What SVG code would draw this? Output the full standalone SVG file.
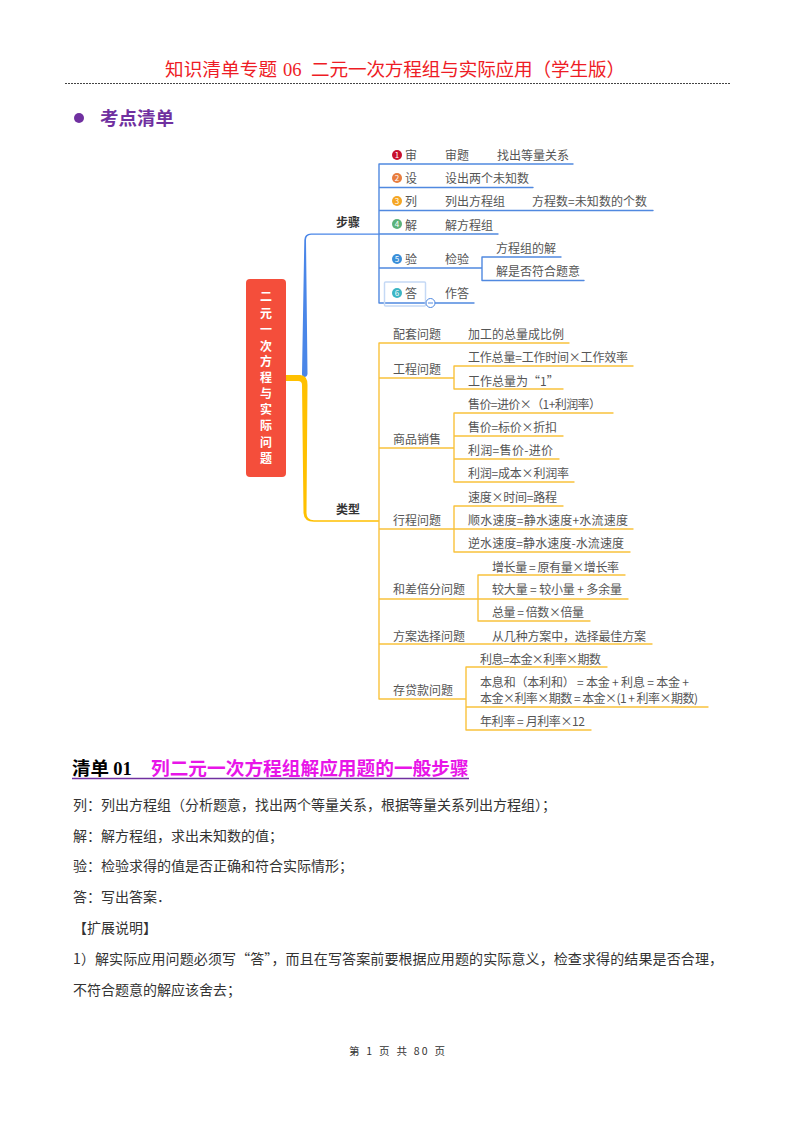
<svg xmlns="http://www.w3.org/2000/svg" width="793" height="1122" viewBox="0 0 793 1122">
<style>
text{font-family:"Noto Sans CJK SC","Liberation Sans",sans-serif}
.m{font-size:12px;fill:#555}
.b{font-size:12px;fill:#333;font-weight:700}
.n{font-size:8px;fill:#fff;text-anchor:middle}
.p{font-size:14px;fill:#333;font-family:"Noto Sans CJK SC","Liberation Serif",serif}
.h{font-size:18.6px;fill:#ee1c25;font-family:"Noto Sans CJK SC","Liberation Serif",serif}
.bl,.ye{fill:none;stroke-linecap:round;stroke-linejoin:round}
.bl{stroke:#5089e0;stroke-width:1.4}
.ye{stroke:#f9c23c;stroke-width:1.4}
</style>
<rect width="793" height="1122" fill="#fff"/>
<g id="header">
<text class="h" x="165" y="76" textLength="112">知识清单专题</text>
<text class="h" x="283" y="76" style="font-family:'Liberation Serif',serif">06</text>
<text class="h" x="311" y="76" textLength="314">二元一次方程组与实际应用（学生版）</text>
<line x1="65" y1="83.500" x2="730" y2="83.500" stroke="#444" stroke-width="1" stroke-dasharray="2 1"/>
<circle cx="79" cy="118" r="5" fill="#7030a0"/>
<text x="100" y="125" font-size="18.500" font-weight="700" fill="#7030a0">考点清单</text>
</g>
<g id="connectors">
<path d="M302 374L304.300 240Q304.500 233.500 311 233.500H379V234.700H311Q306 235 306 240L307.500 374Q307 377 304.500 377Q302 377 302 374Z" fill="#4a86e8"/>
<path d="M286 375H300Q307.500 375 307.500 385L306.500 513Q306.500 520.300 314 520.300H379V521.700H314Q304 521.700 303.500 513L302 385Q302 381 298 381H286Z" fill="#ffc000"/>
<path class="bl" d="M379 164V303M379 164H573M379 187.500H533M379 210.500H653M379 234H498M379 268H482M482 257V280.500M482 257H561M482 280.500H584M379 303H474"/>
<path class="ye" d="M379 343V699M379 343H569M379 378H454M454 366V389M454 366H633M454 389H563M379 448H454M454 413V482M454 413H613M454 436H563M454 459H559M454 482H574M379 529H454M454 506V552M454 506H563M454 529H633M454 552H630M379 599H478M478 575V621M478 575H625M478 599H628M478 621H590M379 644H652M379 699H466M466 667V730M466 667H607M466 707H708M466 730H591"/>
</g>
<g id="root"><rect x="246" y="279" width="40" height="198" rx="4" fill="#f44e3b"/>
<text x="266 266 266 266 266 266 266 266 266 266 266" y="301 317.500 333.500 350.500 366 382 398 414 430 447 463" font-size="12" font-weight="700" fill="#fff" text-anchor="middle">二元一次方程与实际问题</text></g>
<g id="n-steps"><text class="b" x="336" y="226.500">步骤</text></g>
<g id="n-types"><text class="b" x="336" y="513.500">类型</text></g>
<g id="s1"><circle cx="397" cy="155" r="5" fill="#c8102e"/><text class="n" x="397" y="158">1</text><text class="m" x="405" y="159.500">审</text><text class="m" x="445" y="159.500">审题</text><text class="m" x="497" y="159.500">找出等量关系</text></g>
<g id="s2"><circle cx="397" cy="178" r="5" fill="#e87d3e"/><text class="n" x="397" y="181">2</text><text class="m" x="405" y="182.500">设</text><text class="m" x="445" y="182.500">设出两个未知数</text></g>
<g id="s3"><circle cx="397" cy="201" r="5" fill="#f5a623"/><text class="n" x="397" y="204">3</text><text class="m" x="405" y="205.500">列</text><text class="m" x="445" y="205.500">列出方程组</text><text class="m" x="532" y="205.500" textLength="115">方程数=未知数的个数</text></g>
<g id="s4"><circle cx="397" cy="224" r="5" fill="#5cb27a"/><text class="n" x="397" y="227">4</text><text class="m" x="405" y="229.500">解</text><text class="m" x="445" y="229.500">解方程组</text></g>
<g id="s5"><circle cx="397" cy="259" r="5" fill="#3b8fd9"/><text class="n" x="397" y="262">5</text><text class="m" x="405" y="263.500">验</text><text class="m" x="445" y="263.500">检验</text><text class="m" x="496" y="252.500">方程组的解</text><text class="m" x="496" y="275.500">解是否符合题意</text></g>
<g id="s6"><rect x="384.500" y="282" width="41" height="24" rx="1" fill="none" stroke="#c5d9f5" stroke-width="1.500"/><circle cx="397" cy="293" r="5" fill="#3bb5c4"/><text class="n" x="397" y="296">6</text><text class="m" x="405" y="297.500">答</text><text class="m" x="445" y="297.500">作答</text><circle cx="430.500" cy="303" r="4.500" fill="#fff" stroke="#5089e0"/><line x1="428" y1="303" x2="433" y2="303" stroke="#5089e0"/></g>
<g id="t1"><text class="m" x="393" y="338.500">配套问题</text><text class="m" x="468" y="338.500">加工的总量成比例</text></g>
<g id="t2"><text class="m" x="393" y="373.500">工程问题</text><text class="m" x="468" y="361.500" textLength="160">工作总量=工作时间×工作效率</text><text class="m" x="468" y="385.500">工作总量为“1”</text></g>
<g id="t3"><text class="m" x="393" y="443.500">商品销售</text><text class="m" x="468" y="408.500" textLength="133">售价=进价×（1+利润率）</text><text class="m" x="468" y="431.500" textLength="89">售价=标价×折扣</text><text class="m" x="468" y="454.500" textLength="85">利润=售价-进价</text><text class="m" x="468" y="477.500" textLength="101">利润=成本×利润率</text></g>
<g id="t4"><text class="m" x="393" y="524.500">行程问题</text><text class="m" x="468" y="501.500" textLength="89">速度×时间=路程</text><text class="m" x="468" y="524.500" textLength="160">顺水速度=静水速度+水流速度</text><text class="m" x="468" y="547.500" textLength="156">逆水速度=静水速度-水流速度</text></g>
<g id="t5"><text class="m" x="393" y="594">和差倍分问题</text><text class="m" x="492" y="571.500" textLength="127">增长量 = 原有量×增长率</text><text class="m" x="492" y="594" textLength="130">较大量 = 较小量 + 多余量</text><text class="m" x="492" y="617" textLength="92">总量 = 倍数×倍量</text></g>
<g id="t6"><text class="m" x="393" y="640.500">方案选择问题</text><text class="m" x="492" y="640.500" textLength="154">从几种方案中，选择最佳方案</text></g>
<g id="t7"><text class="m" x="393" y="694.500">存贷款问题</text><text class="m" x="480" y="663.500" textLength="121">利息=本金×利率×期数</text><text class="m" x="480" y="686.500" textLength="209">本息和（本利和） = 本金 + 利息 = 本金 +</text><text class="m" x="480" y="702.500" textLength="218">本金×利率×期数 = 本金×(1 + 利率×期数)</text><text class="m" x="480" y="725.500" textLength="105">年利率 = 月利率×12</text></g>
<g id="body">
<line x1="72" y1="778.500" x2="469" y2="778.500" stroke="#7030a0" stroke-width="1.500"/>
<text x="72" y="775" font-size="18.500" font-weight="700" fill="#000">清单 <tspan style="font-family:'Liberation Serif',serif">01</tspan></text>
<text x="151" y="775" font-size="18.700" font-weight="700" fill="#e815e8">列二元一次方程组解应用题的一般步骤</text>
<text class="p" x="73" y="810">列：列出方程组（分析题意，找出两个等量关系，根据等量关系列出方程组）；</text>
<text class="p" x="73" y="841">解：解方程组，求出未知数的值；</text>
<text class="p" x="73" y="871">验：检验求得的值是否正确和符合实际情形；</text>
<text class="p" x="73" y="902">答：写出答案．</text>
<text class="p" x="73" y="933">【扩展说明】</text>
<text class="p" x="73" y="964" textLength="650">1）解实际应用问题必须写“答”，而且在写答案前要根据应用题的实际意义，检查求得的结果是否合理，</text>
<text class="p" x="73" y="995">不符合题意的解应该舍去；</text>
<text x="349" y="1055" font-size="10.500" fill="#333" textLength="96" style="font-family:'Noto Sans CJK SC','Liberation Serif',serif">第 1 页 共 80 页</text>
</g>
</svg>
